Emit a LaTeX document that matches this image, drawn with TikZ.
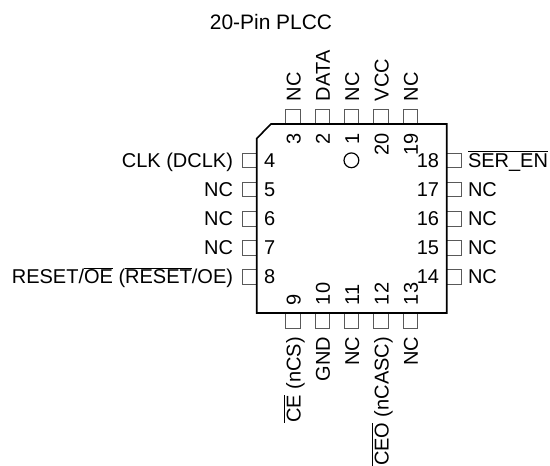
\documentclass[tikz,border=0pt]{standalone}
\usepackage{fontspec}
\setmainfont{Liberation Sans}
\newcommand{\ovl}[1]{$\overline{\mbox{#1}}$}
\tikzset{
  x=0.75pt,y=-0.75pt,
  every node/.style={font=\fontsize{15}{17}\selectfont,inner sep=0pt,outer sep=0pt},
  chip/.style={draw=black,line width=1.2pt,line join=miter},
  pinbox/.style={draw=black!65,line width=0.75pt,fill=white},
  lab/.style={anchor=base east},
  rlab/.style={anchor=base west},
  uplab/.style={rotate=90,anchor=base west},
  downlab/.style={rotate=90,anchor=base east},
  upnum/.style={rotate=90,anchor=base east},
  dnnum/.style={rotate=90,anchor=base west},
  lnum/.style={anchor=base west},
  rnum/.style={anchor=base east}
}
\begin{document}
\begin{tikzpicture}
\useasboundingbox (0,0) rectangle (550,465);
\node[anchor=base,font=\fontsize{15.7}{17}\selectfont] (title) at (271,29) {20-Pin PLCC};
% top pins
\foreach \n/\x in {t3/293,t2/322.3,t1/351.6,t20/381,t19/410.3}
  \draw[pinbox] (\x-7.3,109.5) rectangle (\x+7.3,124);
% bottom pins
\foreach \n/\x in {b9/293,b10/322.3,b11/351.6,b12/381,b13/410.3}
  \draw[pinbox] (\x-7.3,313) rectangle (\x+7.3,328);
% left pins
\foreach \n/\y in {l4/160.3,l5/189.5,l6/218.7,l7/247.7,l8/276.7}
  \draw[pinbox] (242,\y-7.3) rectangle (256.5,\y+7.3);
% right pins
\foreach \n/\y in {r18/160.3,r17/189.5,r16/218.7,r15/247.7,r14/276.7}
  \draw[pinbox] (446.7,\y-7.3) rectangle (461,\y+7.3);
% body
\draw[chip] (271,124) -- (446.7,124) -- (446.7,313) -- (256.7,313) -- (256.7,138.5) -- cycle;
\draw[line width=0.9pt] (351.4,160.3) circle (7.4);
% top labels
\node[uplab] (T3) at (300.5,101) {NC};
\node[uplab] (T2) at (329.8,101) {DATA};
\node[uplab] (T1) at (359.1,101) {NC};
\node[uplab] (T20) at (388.5,101) {VCC};
\node[uplab] (T19) at (417.8,101) {NC};
% top numbers
\node[upnum] (N3) at (300.5,133) {3};
\node[upnum] (N2) at (329.8,133) {2};
\node[upnum] (N1) at (359.1,133) {1};
\node[upnum] (N20) at (388.5,133) {20};
\node[upnum] (N19) at (417.8,133) {19};
% bottom labels
\node[downlab] (B9) at (300.5,337) {\ovl{CE} (nCS)};
\node[downlab] (B10) at (329.8,337) {GND};
\node[downlab] (B11) at (359.1,337) {NC};
\node[downlab] (B12) at (388.5,337) {\ovl{CEO} (nCASC)};
\node[downlab] (B13) at (417.8,337) {NC};
% bottom numbers
\node[dnnum] (N9) at (300.5,305) {9};
\node[dnnum] (N10) at (329.8,305) {10};
\node[dnnum] (N11) at (359.1,305) {11};
\node[dnnum] (N12) at (388.5,305) {12};
\node[dnnum] (N13) at (417.8,305) {13};
% left labels
\node[lab] (L4) at (233,167.3) {CLK (DCLK)};
\node[lab] (L5) at (233,196.5) {NC};
\node[lab] (L6) at (233,225.7) {NC};
\node[lab] (L7) at (233,254.7) {NC};
\node[lab] (L8) at (233,283.7) {RESET/\ovl{OE} (\ovl{RESET}/OE)};
% left numbers
\node[lnum] (N4) at (264,167.3) {4};
\node[lnum] (N5) at (264,196.5) {5};
\node[lnum] (N6) at (264,225.7) {6};
\node[lnum] (N7) at (264,254.7) {7};
\node[lnum] (N8) at (264,283.7) {8};
% right labels
\node[rlab] (R18) at (468,167.3) {\ovl{SER\_EN}};
\node[rlab] (R17) at (468,196.5) {NC};
\node[rlab] (R16) at (468,225.7) {NC};
\node[rlab] (R15) at (468,254.7) {NC};
\node[rlab] (R14) at (468,283.7) {NC};
% right numbers
\node[rnum] (N18) at (439,167.3) {18};
\node[rnum] (N17) at (439,196.5) {17};
\node[rnum] (N16) at (439,225.7) {16};
\node[rnum] (N15) at (439,254.7) {15};
\node[rnum] (N14) at (439,283.7) {14};
\end{tikzpicture}
\end{document}
